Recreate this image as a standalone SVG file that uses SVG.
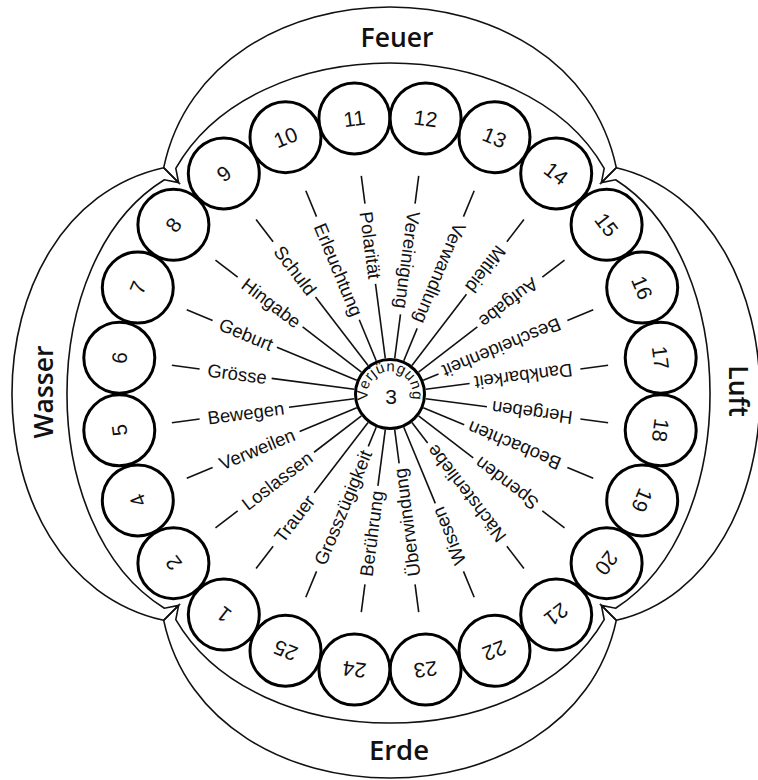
<svg xmlns="http://www.w3.org/2000/svg" width="758" height="780" viewBox="0 0 758 780">
<style>
.lobe path{fill:none;stroke:#111;stroke-width:1.6;stroke-linejoin:miter}
.node circle{fill:#fff;stroke:#000;stroke-width:3}
.num{font-family:"Liberation Sans",Arial,sans-serif;font-size:21px;text-anchor:middle;fill:#111}
.sp line{stroke:#111;stroke-width:1.6}
.lbl{font-family:"Liberation Sans",Arial,sans-serif;font-size:18.5px;fill:#111}
.el{font-family:"Open Sans",sans-serif;font-weight:600;font-size:26.5px;text-anchor:middle;fill:#111}
.vj{font-family:"Liberation Sans",Arial,sans-serif;font-size:15px;letter-spacing:0.6px;fill:#111}
</style>
<defs>
<path id="vjpath" d="M374.1 409.9 A22.5 22.5 0 1 1 405.9 409.9"/>
</defs>
<rect width="758" height="780" fill="#fff"/>

<g id="lobes" class="lobe">
<g id="feuer"><path d="M178.6 182.6 L163.7 167.7 C208.7 -46.6 571.3 -46.6 616.3 167.7 L601.4 182.6 L604.2 168.4 C524.2 27.9 255.8 27.9 175.8 168.4 Z"/><text class="el" x="397" y="47">Feuer</text></g>
<g id="luft"><path d="M601.4 182.6 L616.3 167.7 C807.9 212.7 807.9 575.3 616.3 620.3 L601.4 605.4 L615.6 608.2 C741.5 528.2 741.5 259.8 615.6 179.8 Z"/><text class="el" transform="translate(729 391) rotate(90)">Luft</text></g>
<g id="erde"><path d="M601.4 605.4 L616.3 620.3 C571.3 830.6 208.7 830.6 163.7 620.3 L178.6 605.4 L175.8 619.6 C255.8 757.5 524.2 757.5 604.2 619.6 Z"/><text class="el" x="399" y="760" style="font-size:27.5px">Erde</text></g>
<g id="wasser"><path d="M178.6 605.4 L163.7 620.3 C-38.6 575.3 -38.6 212.7 163.7 167.7 L178.6 182.6 L164.4 179.8 C34.5 259.8 34.5 528.2 164.4 608.2 Z"/><text class="el" transform="translate(53 392) rotate(-90)">Wasser</text></g>
</g>

<g id="spokes" class="sp">
<g transform="rotate(82.5 390 394)"><line x1="170" y1="394" x2="198" y2="394"/><text class="lbl" x="206" y="400.5">Polarität</text><line x1="278.9" y1="394" x2="354" y2="394"/></g>
<g transform="rotate(97.5 390 394)"><line x1="170" y1="394" x2="198" y2="394"/><text class="lbl" x="206" y="400.5">Vereinigung</text><line x1="309.7" y1="394" x2="354" y2="394"/></g>
<g transform="rotate(112.5 390 394)"><line x1="170" y1="394" x2="198" y2="394"/><text class="lbl" x="206" y="400.5">Verwandlung</text><line x1="319" y1="394" x2="354" y2="394"/></g>
<g transform="rotate(127.5 390 394)"><line x1="170" y1="394" x2="198" y2="394"/><text class="lbl" x="206" y="400.5">Mitleid</text><line x1="264.4" y1="394" x2="354" y2="394"/></g>
<g transform="rotate(142.5 390 394)"><line x1="170" y1="394" x2="198" y2="394"/><text class="lbl" x="206" y="400.5">Aufgabe</text><line x1="279.9" y1="394" x2="354" y2="394"/></g>
<g transform="rotate(157.5 390 394)"><line x1="170" y1="394" x2="198" y2="394"/><text class="lbl" x="206" y="400.5">Bescheidenheit</text><line x1="337.5" y1="394" x2="354" y2="394"/></g>
<g transform="rotate(172.5 390 394)"><line x1="170" y1="394" x2="198" y2="394"/><text class="lbl" x="206" y="400.5">Dankbarkeit</text><line x1="309.7" y1="394" x2="354" y2="394"/></g>
<g transform="rotate(187.5 390 394)"><line x1="170" y1="394" x2="198" y2="394"/><text class="lbl" x="206" y="400.5">Hergeben</text><line x1="292.2" y1="394" x2="354" y2="394"/></g>
<g transform="rotate(202.5 390 394)"><line x1="170" y1="394" x2="198" y2="394"/><text class="lbl" x="206" y="400.5">Beobachten</text><line x1="309.7" y1="394" x2="354" y2="394"/></g>
<g transform="rotate(217.5 390 394)"><line x1="170" y1="394" x2="198" y2="394"/><text class="lbl" x="206" y="400.5">Spenden</text><line x1="285.1" y1="394" x2="354" y2="394"/></g>
<g transform="rotate(232.5 390 394)"><line x1="170" y1="394" x2="198" y2="394"/><text class="lbl" x="206" y="400.5">Nächstenliebe</text><line x1="328.2" y1="394" x2="354" y2="394"/></g>
<g transform="rotate(247.5 390 394)"><line x1="170" y1="394" x2="198" y2="394"/><text class="lbl" x="206" y="400.5">Wissen</text><line x1="271.6" y1="394" x2="354" y2="394"/></g>
<g transform="rotate(262.5 390 394)"><line x1="170" y1="394" x2="198" y2="394"/><text class="lbl" x="206" y="400.5">Überwindung</text><line x1="320" y1="394" x2="354" y2="394"/></g>
<g transform="rotate(277.5 390 394)"><line x1="170" y1="394" x2="198" y2="394"/><text class="lbl" x="206" y="400.5">Berührung</text><line x1="297.4" y1="394" x2="354" y2="394"/></g>
<g transform="rotate(292.5 390 394)"><line x1="170" y1="394" x2="198" y2="394"/><text class="lbl" x="206" y="400.5">Grosszügigkeit</text><line x1="333.3" y1="394" x2="354" y2="394"/></g>
<g transform="rotate(307.5 390 394)"><line x1="170" y1="394" x2="198" y2="394"/><text class="lbl" x="206" y="400.5">Trauer</text><line x1="265.5" y1="394" x2="354" y2="394"/></g>
<g transform="rotate(322.5 390 394)"><line x1="170" y1="394" x2="198" y2="394"/><text class="lbl" x="206" y="400.5">Loslassen</text><line x1="294.3" y1="394" x2="354" y2="394"/></g>
<g transform="rotate(337.5 390 394)"><line x1="170" y1="394" x2="198" y2="394"/><text class="lbl" x="206" y="400.5">Verweilen</text><line x1="292.2" y1="394" x2="354" y2="394"/></g>
<g transform="rotate(352.5 390 394)"><line x1="170" y1="394" x2="198" y2="394"/><text class="lbl" x="206" y="400.5">Bewegen</text><line x1="288.1" y1="394" x2="354" y2="394"/></g>
<g transform="rotate(7.5 390 394)"><line x1="170" y1="394" x2="198" y2="394"/><text class="lbl" x="206" y="400.5">Grösse</text><line x1="270.6" y1="394" x2="354" y2="394"/></g>
<g transform="rotate(22.5 390 394)"><line x1="170" y1="394" x2="198" y2="394"/><text class="lbl" x="206" y="400.5">Geburt</text><line x1="267.6" y1="394" x2="354" y2="394"/></g>
<g transform="rotate(37.5 390 394)"><line x1="170" y1="394" x2="198" y2="394"/><text class="lbl" x="206" y="400.5">Hingabe</text><line x1="279.9" y1="394" x2="354" y2="394"/></g>
<g transform="rotate(52.5 390 394)"><line x1="170" y1="394" x2="198" y2="394"/><text class="lbl" x="206" y="400.5">Schuld</text><line x1="267.6" y1="394" x2="354" y2="394"/></g>
<g transform="rotate(67.5 390 394)"><line x1="170" y1="394" x2="198" y2="394"/><text class="lbl" x="206" y="400.5">Erleuchtung</text><line x1="309.7" y1="394" x2="354" y2="394"/></g>
</g>

<g id="nodes">
<g id="center" class="node"><circle cx="390" cy="394" r="34.5"/><text class="vj"><textPath href="#vjpath" startOffset="50%" text-anchor="middle">Verjüngung</textPath></text><text class="num" x="391" y="404">3</text></g>
<g id="n11" class="node"><circle cx="354.4" cy="118.4" r="35.5"/><text class="num" transform="translate(354.4 118.4) rotate(-7.5)" y="7.5">11</text></g>
<g id="n12" class="node"><circle cx="425.6" cy="118.4" r="35.5"/><text class="num" transform="translate(425.6 118.4) rotate(7.5)" y="7.5">12</text></g>
<g id="n13" class="node"><circle cx="494.5" cy="137.2" r="35.5"/><text class="num" transform="translate(494.5 137.2) rotate(22.5)" y="7.5">13</text></g>
<g id="n14" class="node"><circle cx="556.2" cy="173.4" r="35.5"/><text class="num" transform="translate(556.2 173.4) rotate(37.5)" y="7.5">14</text></g>
<g id="n15" class="node"><circle cx="606.6" cy="224.8" r="35.5"/><text class="num" transform="translate(606.6 224.8) rotate(52.5)" y="7.5">15</text></g>
<g id="n16" class="node"><circle cx="642.2" cy="287.6" r="35.5"/><text class="num" transform="translate(642.2 287.6) rotate(67.5)" y="7.5">16</text></g>
<g id="n17" class="node"><circle cx="660.7" cy="357.7" r="35.5"/><text class="num" transform="translate(660.7 357.7) rotate(82.5)" y="7.5">17</text></g>
<g id="n18" class="node"><circle cx="660.7" cy="430.3" r="35.5"/><text class="num" transform="translate(660.7 430.3) rotate(97.5)" y="7.5">18</text></g>
<g id="n19" class="node"><circle cx="642.2" cy="500.4" r="35.5"/><text class="num" transform="translate(642.2 500.4) rotate(112.5)" y="7.5">19</text></g>
<g id="n20" class="node"><circle cx="606.6" cy="563.2" r="35.5"/><text class="num" transform="translate(606.6 563.2) rotate(127.5)" y="7.5">20</text></g>
<g id="n21" class="node"><circle cx="556.2" cy="614.6" r="35.5"/><text class="num" transform="translate(556.2 614.6) rotate(142.5)" y="7.5">21</text></g>
<g id="n22" class="node"><circle cx="494.5" cy="650.8" r="35.5"/><text class="num" transform="translate(494.5 650.8) rotate(157.5)" y="7.5">22</text></g>
<g id="n23" class="node"><circle cx="425.6" cy="669.6" r="35.5"/><text class="num" transform="translate(425.6 669.6) rotate(172.5)" y="7.5">23</text></g>
<g id="n24" class="node"><circle cx="354.4" cy="669.6" r="35.5"/><text class="num" transform="translate(354.4 669.6) rotate(187.5)" y="7.5">24</text></g>
<g id="n25" class="node"><circle cx="285.5" cy="650.8" r="35.5"/><text class="num" transform="translate(285.5 650.8) rotate(202.5)" y="7.5">25</text></g>
<g id="n1" class="node"><circle cx="223.8" cy="614.6" r="35.5"/><text class="num" transform="translate(223.8 614.6) rotate(217.5)" y="7.5">1</text></g>
<g id="n2" class="node"><circle cx="173.4" cy="563.2" r="35.5"/><text class="num" transform="translate(173.4 563.2) rotate(232.5)" y="7.5">2</text></g>
<g id="n4" class="node"><circle cx="137.8" cy="500.4" r="35.5"/><text class="num" transform="translate(137.8 500.4) rotate(247.5)" y="7.5">4</text></g>
<g id="n5" class="node"><circle cx="119.3" cy="430.3" r="35.5"/><text class="num" transform="translate(119.3 430.3) rotate(262.5)" y="7.5">5</text></g>
<g id="n6" class="node"><circle cx="119.3" cy="357.7" r="35.5"/><text class="num" transform="translate(119.3 357.7) rotate(277.5)" y="7.5">6</text></g>
<g id="n7" class="node"><circle cx="137.8" cy="287.6" r="35.5"/><text class="num" transform="translate(137.8 287.6) rotate(292.5)" y="7.5">7</text></g>
<g id="n8" class="node"><circle cx="173.4" cy="224.8" r="35.5"/><text class="num" transform="translate(173.4 224.8) rotate(307.5)" y="7.5">8</text></g>
<g id="n9" class="node"><circle cx="223.8" cy="173.4" r="35.5"/><text class="num" transform="translate(223.8 173.4) rotate(322.5)" y="7.5">9</text></g>
<g id="n10" class="node"><circle cx="285.5" cy="137.2" r="35.5"/><text class="num" transform="translate(285.5 137.2) rotate(337.5)" y="7.5">10</text></g>
</g>
</svg>
